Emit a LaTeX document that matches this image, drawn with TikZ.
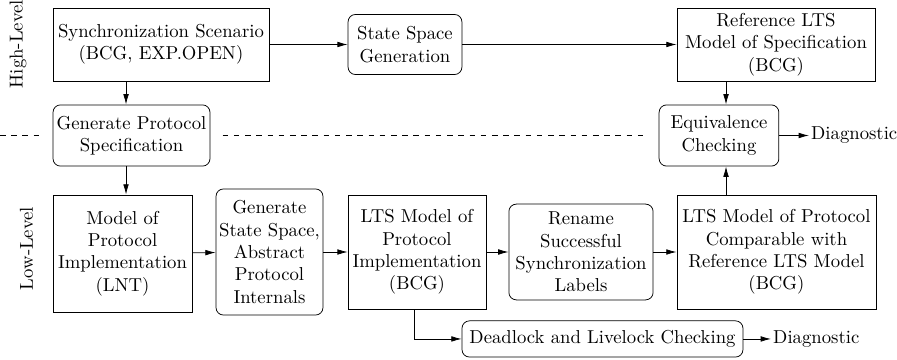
\documentclass[tikz,border=0pt]{standalone}
\usetikzlibrary{arrows.meta}
\begin{document}
\begin{tikzpicture}[>={Latex[length=5.5pt,width=3pt]},
  blk/.style={draw, align=center, inner sep=1pt},
  act/.style={draw, rounded corners=4pt, align=center, inner sep=1pt}]
\useasboundingbox (0,0) rectangle (16.855,6.764);
% high level
\node[blk, minimum width=4.06cm, minimum height=1.37cm] (scen) at (3.025,5.928)
  {Synchronization Scenario\\(BCG, EXP.OPEN)};
\node[act, minimum width=2.14cm, minimum height=1.13cm] (ssgen) at (7.61,5.928)
  {State Space\\Generation};
\node[blk, minimum width=3.72cm, minimum height=1.37cm] (reflts) at (14.581,5.928)
  {Reference LTS\\Model of Specification\\(BCG)};
\node[act, minimum width=2.95cm, minimum height=1.15cm] (genspec) at (2.471,4.218)
  {Generate Protocol\\Specification};
\node[act, minimum width=2.25cm, minimum height=1.15cm] (equiv) at (13.51,4.218)
  {Equivalence\\Checking};
\node[anchor=west, inner sep=1pt] (diag1) at (15.2,4.218) {Diagnostic};
% low level
\node[blk, minimum width=2.61cm, minimum height=2.2cm] (lnt) at (2.302,2.001)
  {Model of\\Protocol\\Implementation\\(LNT)};
\node[act, minimum width=2.01cm, minimum height=2.37cm] (genss) at (5.064,2.029)
  {Generate\\State Space,\\Abstract\\Protocol\\Internals};
\node[blk, minimum width=2.59cm, minimum height=2.14cm] (ltsimpl) at (7.835,2.029)
  {LTS Model of\\Protocol\\Implementation\\(BCG)};
\node[act, minimum width=2.71cm, minimum height=1.8cm] (rename) at (10.917,2.029)
  {Rename\\Successful\\Synchronization\\Labels};
\node[blk, minimum width=3.74cm, minimum height=2.14cm] (ltscomp) at (14.59,2.029)
  {LTS Model of Protocol\\Comparable with\\Reference LTS Model\\(BCG)};
\node[act, minimum width=5.28cm, minimum height=0.68cm] (dead) at (11.321,0.395)
  {Deadlock and Livelock Checking};
\node[anchor=west, inner sep=1pt] (diag2) at (14.487,0.395) {Diagnostic};
% level labels
\node[rotate=90] (hl) at (0.34,5.937) {High-Level};
\node[rotate=90] (ll) at (0.498,2.095) {Low-Level};
\coordinate (specx) at (2.368,0);
\coordinate (eqx) at (13.642,0);
\coordinate (tapx) at (7.779,0);
% separator
\draw[dashed] (0,4.218) -- ([xshift=-0.2cm]genspec.west);
\draw[dashed] ([xshift=0.23cm]genspec.east) -- ([xshift=-0.22cm]equiv.west);
% flow
\draw[->] (scen) -- (ssgen);
\draw[->] (ssgen) -- (reflts);
\draw[->] (scen.south -| specx) -- (genspec.north -| specx);
\draw[->] (genspec.south -| specx) -- (lnt.north -| specx);
\draw[->] (reflts.south -| eqx) -- (equiv.north -| eqx);
\draw[->] (ltscomp.north -| eqx) -- (equiv.south -| eqx);
\draw[->] (equiv) -- (diag1);
\draw[->] (lnt) -- (genss);
\draw[->] (genss) -- (ltsimpl);
\draw[->] (ltsimpl) -- (rename);
\draw[->] (rename) -- (ltscomp);
\draw[->] (ltsimpl.south -| tapx) |- (dead.west);
\draw[->] (dead) -- (diag2);
\end{tikzpicture}
\end{document}
